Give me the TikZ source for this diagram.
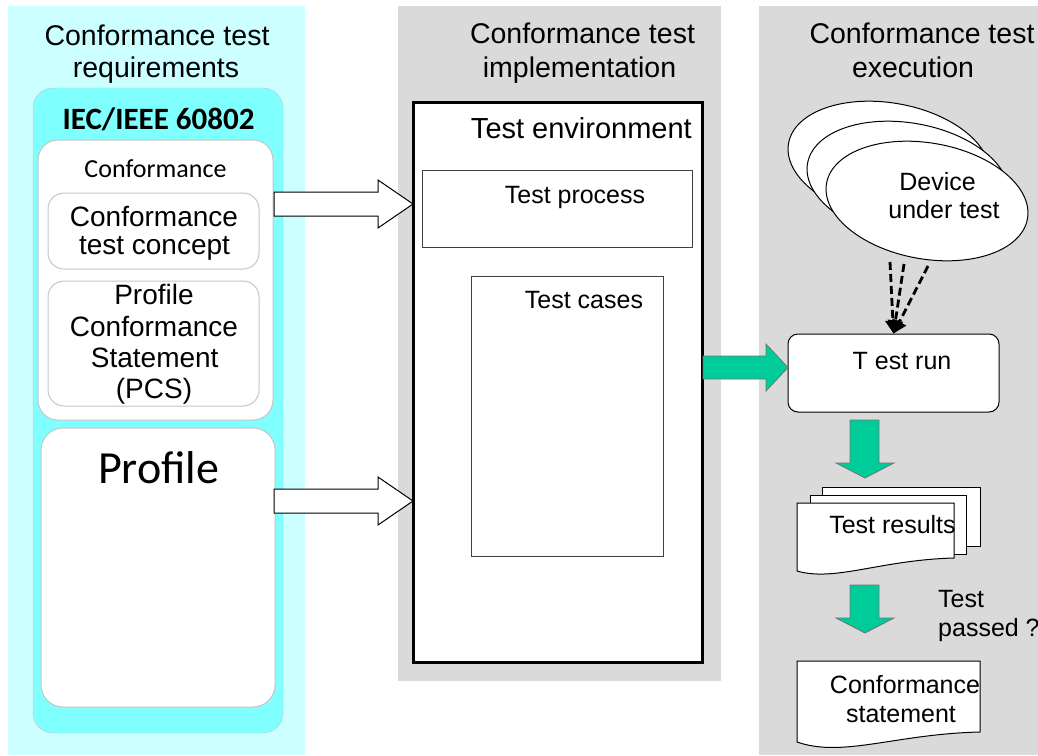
\documentclass[tikz,border=0pt]{standalone}
\usepackage{fontspec}
\setmainfont{Liberation Sans}
\newfontfamily\calibri{Carlito}
\usetikzlibrary{shapes.geometric,arrows.meta}

\definecolor{reqbg}{RGB}{204,255,255}
\definecolor{stdcyan}{RGB}{128,255,255}
\definecolor{panelgray}{RGB}{218,218,218}
\definecolor{flowgreen}{RGB}{0,204,153}
\definecolor{softline}{RGB}{198,198,198}

\tikzset{
  lbl/.style={anchor=base, inner sep=0pt, font=\fontsize{25}{30}\selectfont},
  headlbl/.style={lbl, font=\fontsize{28.5}{32}\selectfont},
  reqlbl/.style={lbl, font=\fontsize{28}{32}\selectfont},
  softbox/.style={draw=softline, fill=white, line width=1pt},
  plainbox/.style={draw=black!75, fill=white, line width=1pt},
  hollowarrow/.style={draw=black, fill=white, line width=1pt},
  greenarrow/.style={draw=black!55, fill=flowgreen, line width=0.8pt},
  docpage/.style={draw=black, fill=white, line width=1pt},
  dutshape/.style={ellipse, draw=black, fill=white, line width=1pt,
    minimum width=204pt, minimum height=116pt, rotate=-10},
  probe/.style={line width=2.8pt, dash pattern=on 8pt off 4pt,
    -{Triangle[length=13pt,width=15pt]}}
}

\begin{document}
\begin{tikzpicture}[x=1pt, y=-1pt]
    \useasboundingbox (0,0) rectangle (1038,755);

    % Panels
    \fill[reqbg] (8,6) rectangle (305,755);
    \fill[panelgray] (398,6) rectangle (721,681);
    \fill[panelgray] (759,6) rectangle (1038,755);

    % Requirements column
    \draw[draw=softline, fill=stdcyan, rounded corners=20pt] (33,88) rectangle (283,733);
    \draw[softbox, rounded corners=20pt] (38,140) rectangle (273,420);
    \draw[softbox, rounded corners=16pt] (48,193) rectangle (259,269);
    \draw[softbox, rounded corners=16pt] (48,281) rectangle (259,406);
    \draw[softbox, rounded corners=22pt] (41,428) rectangle (275,707);

    \node[headlbl] (reqhead) at (157,45) {Conformance test};
    \node[headlbl] (reqhead2) at (156,77) {requirements};
    \node[lbl, font=\calibri\bfseries\fontsize{31}{36}\selectfont] (std) at (158.5,129) {IEC/IEEE 60802};
    \node[lbl, font=\calibri\fontsize{26}{30}\selectfont] (conf) at (155.5,177) {Conformance};
    \node[reqlbl] (concept) at (154,226) {Conformance};
    \node[reqlbl] (concept2) at (154.5,254) {test concept};
    \node[reqlbl] (pcs) at (154,304) {Profile};
    \node[reqlbl] (pcs2) at (154,336) {Conformance};
    \node[reqlbl] (pcs3) at (154.7,367) {Statement};
    \node[reqlbl] (pcs4) at (154,398) {(PCS)};
    \node[lbl, font=\calibri\fontsize{46}{52}\selectfont] (profile) at (158.7,483) {Profile};

    % Implementation column
    \draw[white, fill=white] (413,102) rectangle (702,662);
    \draw[line width=3pt] (413,102) rectangle (702,662);
    \draw[plainbox] (422,170) rectangle (692,247);
    \draw[plainbox] (471,276) rectangle (663,556);

    \node[headlbl] (implhead) at (582.5,43) {Conformance test};
    \node[headlbl] (implhead2) at (579.5,77) {implementation};
    \node[lbl, anchor=base east, font=\fontsize{29}{34}\selectfont] (env) at (692,138) {Test environment};
    \node[lbl] (process) at (575,203) {Test process};
    \node[lbl] (cases) at (584,308) {Test cases};

    % Inputs into the test environment
    \draw[hollowarrow] (274,192) -- (378,192) -- (378,180) -- (413,204) -- (378,228) -- (378,216) -- (274,216) -- cycle;
    \draw[hollowarrow] (274,489) -- (378,489) -- (378,477) -- (413,501) -- (378,525) -- (378,513) -- (274,513) -- cycle;

    % Execution column
    \node[headlbl] (exechead) at (922,43) {Conformance test};
    \node[headlbl] (exechead2) at (913,77) {execution};

    % Devices under test
    \foreach \i/\cx/\cy in {0/889/161, 1/908/181, 2/927/201}
        \node[dutshape] (dut\i) at (\cx,\cy) {};
    \node[lbl] (device) at (937.5,190) {Device};
    \node[lbl] (device2) at (944,218) {under test};

    % Test run
    \node[draw, fill=white, line width=1pt, rounded corners=10pt,
          minimum width=211pt, minimum height=78pt] (run) at (893.5,373) {};
    \node[lbl] (runlbl) at (902,369) {T est run};

    \coordinate (tap1) at (890,262);
    \coordinate (tap2) at (904,264);
    \coordinate (tap3) at (928,266);
    \foreach \t in {tap1,tap2,tap3}
        \draw[probe] (\t) -- (run.north);

    % Flow arrows
    \draw[greenarrow] (703,356) -- (766,356) -- (766,344) -- (788,367.5) -- (766,391) -- (766,379) -- (703,379) -- cycle;
    \draw[greenarrow] (850,420) -- (879,420) -- (879,463) -- (894,463) -- (865,478) -- (836,463) -- (850,463) -- cycle;
    \draw[greenarrow] (850,585) -- (879,585) -- (879,618) -- (894,618) -- (865,633) -- (836,618) -- (850,618) -- cycle;

    % Test results
    \draw[docpage] (822,487) rectangle (980,546);
    \draw[docpage] (810,495) rectangle (966,554);
    \draw[docpage] (797,503) -- (954,503) -- (954,558) .. controls (880,560) and (835,582) .. (797,571) -- cycle;
    \node[lbl] (results) at (892.5,533) {Test results};

    \node[lbl, anchor=base west] (passed) at (938,607) {Test};
    \node[lbl, anchor=base west] (passed2) at (938,636) {passed ?};

    % Conformance statement
    \draw[docpage] (797,661) -- (980,661) -- (980,732) .. controls (895,734) and (843,758) .. (797,742) -- cycle;
    \node[lbl] (statement) at (905,693) {Conformance};
    \node[lbl] (statement2) at (901,722) {statement};
\end{tikzpicture}
\end{document}
